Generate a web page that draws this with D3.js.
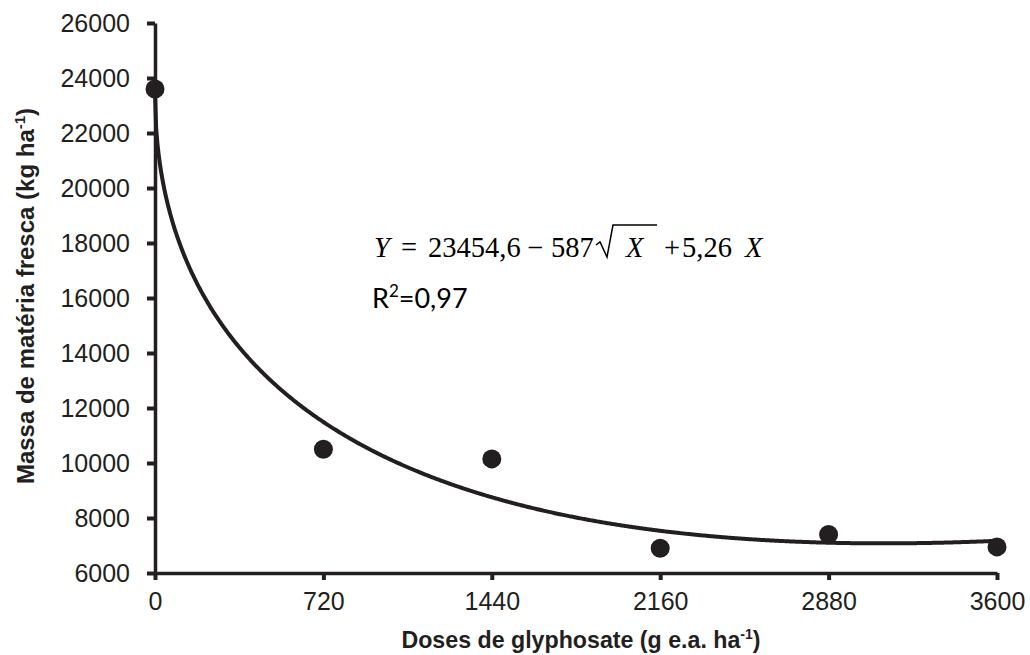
<!DOCTYPE html>
<html><head><meta charset="utf-8">
<script src="https://cdn.jsdelivr.net/npm/d3@7"></script>
<style>body{margin:0;background:#fff} text{white-space:pre}</style>
</head><body>
<svg id="c" width="1030" height="655"></svg>
<script>
const doses = [0, 720, 1440, 2160, 2880, 3600];
const massa = [23600, 10500, 10150, 6900, 7400, 6950];
const xTicks = [0, 720, 1440, 2160, 2880, 3600];
const yTicks = [6000, 8000, 10000, 12000, 14000, 16000, 18000, 20000, 22000, 24000, 26000];
// regression coefficients printed on the chart: Y = a - b*sqrt(X) + c*X
const coef = [23454.6, 587, 5.26];

const svg = d3.select("#c");
const x = d3.scaleLinear().domain([0, 3600]).range([155, 997]);
const y = d3.scaleLinear().domain([6000, 26000]).range([573, 23]);
const ink = "#231f20";
const tf = "Liberation Sans, Arial, Helvetica, sans-serif";

// axes
const xa = svg.append("g").attr("transform", "translate(0,573)")
  .call(d3.axisBottom(x).tickValues(xTicks).tickFormat(d3.format("d")).tickSize(7).tickPadding(12).tickSizeOuter(0));
const ya = svg.append("g").attr("transform", "translate(155,0)")
  .call(d3.axisLeft(y).tickValues(yTicks).tickFormat(d3.format("d")).tickSize(8).tickPadding(17).tickSizeOuter(0));
[xa, ya].forEach(g => {
  g.attr("font-family", tf).attr("font-size", 25);
  g.select(".domain").attr("stroke", ink).attr("stroke-width", 3.5);
  g.selectAll(".tick line").attr("stroke", ink).attr("stroke-width", 4);
  g.selectAll(".tick text").attr("fill", ink);
});

// fitted curve
const xs = d3.range(0, 3601, 5);
const line = d3.line().x(d => x(d)).y(d => y(coef[0] - coef[1] * Math.sqrt(d) + coef[2] * d));
svg.append("path").datum(xs).attr("d", line).attr("fill", "none")
  .attr("stroke", ink).attr("stroke-width", 4);

// points
svg.selectAll("circle.pt").data(doses).enter().append("circle").attr("class", "pt")
  .attr("cx", (d) => x(d)).attr("cy", (d, i) => y(massa[i])).attr("r", 9.5).attr("fill", ink);

// axis titles
const xt = svg.append("text").attr("x", 581).attr("y", 648).attr("text-anchor", "middle")
  .attr("font-family", tf).attr("font-size", 23.2).attr("font-weight", "bold").attr("fill", ink);
xt.append("tspan").text("Doses de glyphosate (g e.a. ha");
xt.append("tspan").attr("dy", -9).attr("font-size", 14).text("-1");
xt.append("tspan").attr("dy", 9).text(")");

const yt = svg.append("text").attr("transform", "translate(34,296) rotate(-90)").attr("text-anchor", "middle")
  .attr("font-family", tf).attr("font-size", 24).attr("font-weight", "bold").attr("fill", ink);
yt.append("tspan").text("Massa de matéria fresca (kg ha");
yt.append("tspan").attr("dy", -9).attr("font-size", 15).text("-1");
yt.append("tspan").attr("dy", 9).text(")");

// equation
const ef = "Liberation Serif, Times New Roman, serif";
const ey = 257;
const parts = [
  {t: "Y", it: true, x: 374}, {t: "=", x: 401}, {t: "23454,6", x: 428}, {t: "\u2212", x: 527},
  {t: "587", x: 551}, {t: "X", it: true, x: 626}, {t: "+", x: 664}, {t: "5,26", x: 682}, {t: "X", it: true, x: 745}
];
parts.forEach(p => {
  svg.append("text").attr("x", p.x).attr("y", ey).attr("fill", "#000")
    .attr("font-family", ef).attr("font-size", 28.5).attr("font-style", p.it ? "italic" : "normal").text(p.t);
});
// radical sign
svg.append("path").attr("d", `M596,245 L600,242 L607,257 L613,225 L657,225`)
  .attr("fill", "none").attr("stroke", "#000").attr("stroke-width", 1.5).attr("stroke-linejoin", "miter");

const r2 = svg.append("text").attr("x", 372).attr("y", 308).attr("fill", "#000")
  .attr("font-family", "Lato, Open Sans, sans-serif").attr("font-size", 27);
r2.append("tspan").text("R");
r2.append("tspan").attr("dy", -11).attr("font-size", 17).text("2");
r2.append("tspan").attr("dy", 11).text("=0,97");
</script>
</body></html>
